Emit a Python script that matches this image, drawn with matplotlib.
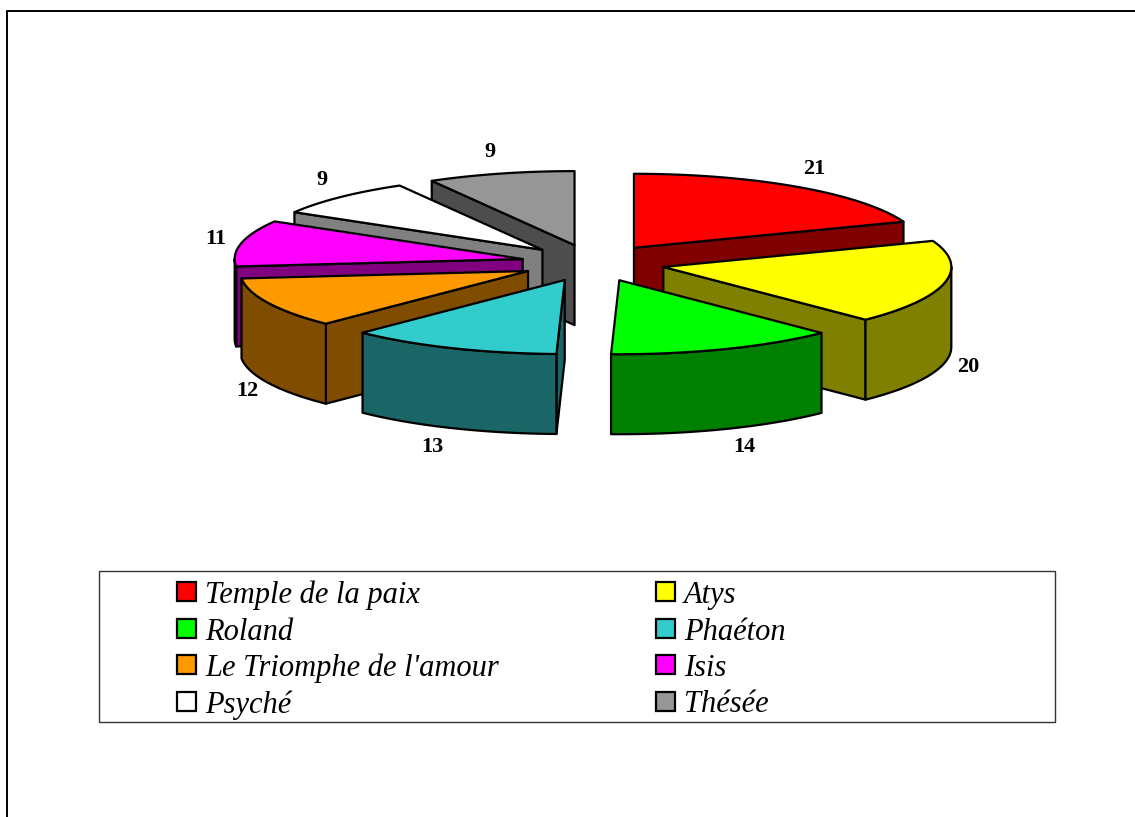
import numpy as np
import matplotlib
matplotlib.use("Agg")
import matplotlib.pyplot as plt
from matplotlib.patches import Polygon, Rectangle

# Valeurs du camembert
names = ['Temple de la paix', 'Atys', 'Roland', 'Phaéton',
         'Le Triomphe de l\'amour', 'Isis', 'Psyché', 'Thésée']
values = [21, 20, 14, 13, 12, 11, 9, 9]
colors = ['#ff0000', '#ffff00', '#00ff00', '#33cccc',
          '#ff9900', '#ff00ff', '#ffffff', '#969696']
dark_colors = ['#800000', '#808000', '#008000', '#1a6666',
               '#804d00', '#800080', '#808080', '#4d4d4d']

# Geometrie du disque, en pixels de l'image
cx, cy = 593, 263
rx, ry = 288, 74
depth = 80
explode = 0.25
label_pos = [(814, 168), (968, 366), (744, 446), (432, 446),
             (247, 390), (216, 238), (322, 179), (490, 151)]

fig = plt.figure(figsize=(11.35, 8.17), dpi=100)
ax = fig.add_axes([0, 0, 1, 1])
ax.set_xlim(0, 1135)
ax.set_ylim(817, 0)
ax.axis('off')


def rim(x0, y0, a):
    return x0 + rx * np.sin(a), y0 - ry * np.cos(a)


def face(pts, color, z):
    ax.add_patch(Polygon(pts, closed=True, facecolor=color, edgecolor='black',
                         linewidth=1.6, joinstyle='round', zorder=z))


# Angles dans le sens horaire depuis le haut
total = sum(values)
bounds = np.radians(np.cumsum([0] + values) / total * 360)
mids = (bounds[:-1] + bounds[1:]) / 2

# On dessine de l'arriere vers l'avant
order = np.argsort(-np.cos(mids))
z = 2
for i in order:
    start, end = bounds[i], bounds[i + 1]
    x0 = cx + explode * rx * np.sin(mids[i])
    y0 = cy - explode * ry * np.cos(mids[i])

    # parois radiales visibles
    if np.sin(start) < -1e-6:
        x1, y1 = rim(x0, y0, start)
        face([(x0, y0), (x1, y1), (x1, y1 + depth), (x0, y0 + depth)], dark_colors[i], z)
        z += 1
    if np.sin(end) > 1e-6:
        x1, y1 = rim(x0, y0, end)
        face([(x0, y0), (x1, y1), (x1, y1 + depth), (x0, y0 + depth)], dark_colors[i], z)
        z += 1

    # paroi exterieure (partie avant seulement)
    a0, a1 = max(start, np.pi / 2), min(end, 3 * np.pi / 2)
    if a1 > a0:
        t = np.linspace(a0, a1, 40)
        xs, ys = rim(x0, y0, t)
        pts = list(zip(xs, ys)) + list(zip(xs[::-1], ys[::-1] + depth))
        face(pts, dark_colors[i], z)
        z += 1

    # dessus
    t = np.linspace(start, end, 60)
    xs, ys = rim(x0, y0, t)
    face([(x0, y0)] + list(zip(xs, ys)), colors[i], z)
    z += 1

# Etiquettes
for v, (lx, ly) in zip(values, label_pos):
    ax.text(lx, ly + 1, str(v), family='Liberation Serif', weight='bold', fontsize=16,
            ha='center', va='center', color='black', zorder=100)

# Cadre du graphique (haut et gauche seulement)
ax.plot([7, 7, 1135], [817, 11, 11], color='black', linewidth=1.4, zorder=1)

# Legende
ax.add_patch(Rectangle((99, 571), 956, 151, facecolor='white', edgecolor='#333333',
                       linewidth=1.0, zorder=1))
leg_x = [177, 656]
leg_y = [592, 629, 665, 702]
for i, name in enumerate(names):
    col, row = i % 2, i // 2
    ax.add_patch(Rectangle((leg_x[col], leg_y[row] - 10), 19, 19, facecolor=colors[i],
                           edgecolor='black', linewidth=1.6, zorder=2))
    ax.text(leg_x[col] + 28, leg_y[row] + 3, name, family='Liberation Serif', style='italic',
            fontsize=22, ha='left', va='center', color='black', zorder=3)

fig.savefig('out.png', dpi=100)
